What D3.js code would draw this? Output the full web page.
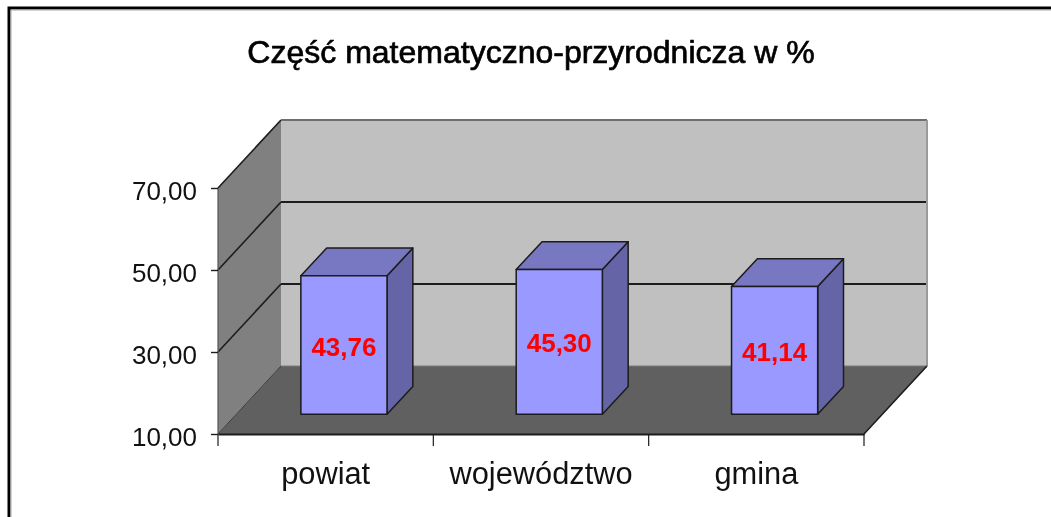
<!DOCTYPE html>
<html>
<head>
<meta charset="utf-8">
<script src="https://cdn.jsdelivr.net/npm/d3@7"></script>
<style>
  html, body { margin: 0; padding: 0; background: #fff; }
  svg { display: block; font-family: "Liberation Sans", Arial, sans-serif; filter: blur(0.55px); }
</style>
</head>
<body>
<div id="chart"></div>
<script>
const TITLE = 'Część matematyczno-przyrodnicza w %';
const categories = ['powiat', 'województwo', 'gmina'];
const values = [43.76, 45.30, 41.14];
const valueLabels = ['43,76', '45,30', '41,14'];
const yTicks = [10, 30, 50, 70];

const COLORS = {
  wall: '#c0c0c0',
  side: '#808080',
  floor: '#606060',
  line: '#1c1c1c',
  barFront: '#9999ff',
  barTop: '#7777c2',
  barSide: '#6464a6',
  label: '#ff0000',
};

const width = 1051;
const height = 517;
const plot = { left: 218, right: 864, top: 188, bottom: 434 };
const depth = { dx: 63, dy: -68 };

const svg = d3.select('#chart').append('svg').attr('width', width).attr('height', height);

const x = d3.scaleBand().domain(categories).range([plot.left, plot.right]).paddingInner(0).paddingOuter(0);
const y = d3.scaleLinear().domain([10, 70]).range([plot.bottom, plot.top]);
const z = d3.scaleLinear().domain([0, 1]).range([0, 1]);

// 3d point: px on the front plane, value, depth 0..1
const pt = (px, value, d) => [px + z(d) * depth.dx, y(value) + z(d) * depth.dy];
const poly = (points, fill, stroke, sw) => svg.append('polygon')
  .attr('points', points.map((p) => p.join(',')).join(' '))
  .attr('fill', fill)
  .attr('stroke', stroke || 'none')
  .attr('stroke-width', sw || 0)
  .attr('stroke-linejoin', 'round');
const line = (a, b, color, sw) => svg.append('line')
  .attr('x1', a[0]).attr('y1', a[1]).attr('x2', b[0]).attr('y2', b[1])
  .attr('stroke', color).attr('stroke-width', sw);

// outer frame, cut by the picture on the right and bottom
svg.append('path')
  .attr('d', d3.line()([[9, height], [9, 8], [width, 8]]))
  .attr('fill', 'none').attr('stroke', '#000').attr('stroke-width', 3);
svg.append('path')
  .attr('d', d3.line()([[11, height], [11, 10], [width, 10]]))
  .attr('fill', 'none').attr('stroke', '#a8a8a8').attr('stroke-width', 1);

svg.append('text')
  .attr('x', 531).attr('y', 63)
  .attr('text-anchor', 'middle')
  .attr('font-size', 32)
  .attr('font-weight', 400)
  .attr('stroke', '#000').attr('stroke-width', 0.7)
  .attr('fill', '#000')
  .text(TITLE);

// walls and floor
const [yMin, yMax] = y.domain();
poly([pt(plot.left, yMin, 1), pt(plot.right, yMin, 1), pt(plot.right, yMax, 1), pt(plot.left, yMax, 1)], COLORS.wall);
poly([pt(plot.left, yMin, 0), pt(plot.left, yMin, 1), pt(plot.left, yMax, 1), pt(plot.left, yMax, 0)], COLORS.side);
poly([pt(plot.left, yMin, 0), pt(plot.right, yMin, 0), pt(plot.right, yMin, 1), pt(plot.left, yMin, 1)], COLORS.floor);

// gridlines run along the side wall and the back wall
yTicks.slice(1).forEach((tick) => {
  line(pt(plot.left, tick, 0), pt(plot.left, tick, 1), COLORS.line, 1.6);
  line(pt(plot.left, tick, 1), pt(plot.right, tick, 1), tick === yMax ? '#6e6e6e' : COLORS.line, 2);
});
line(pt(plot.right, yMin, 1), pt(plot.right, yMax, 1), '#9a9a9a', 2);
line(pt(plot.left, yMin, 1), pt(plot.right, yMin, 1), '#7a7a7a', 1);
line(pt(plot.left, yMin, 0), pt(plot.left, yMin, 1), '#3c3c3c', 1);
line(pt(plot.right, yMin, 0), pt(plot.right, yMin, 1), COLORS.line, 1.6);
line(pt(plot.left, yMin, 0), pt(plot.left, yMax, 0), '#555', 1.2);

// bars stand in the middle of the floor depth
const barFrontDepth = 0.29;
const barBackDepth = 0.70;
const barWidth = x.bandwidth() / 2.5;

categories.forEach((category, i) => {
  const left = x(category) + (x.bandwidth() - barWidth) / 2;
  const right = left + barWidth;
  const v = values[i];
  poly([pt(right, yMin, barFrontDepth), pt(right, yMin, barBackDepth), pt(right, v, barBackDepth), pt(right, v, barFrontDepth)], COLORS.barSide, COLORS.line, 1.5);
  poly([pt(left, v, barFrontDepth), pt(right, v, barFrontDepth), pt(right, v, barBackDepth), pt(left, v, barBackDepth)], COLORS.barTop, COLORS.line, 1.5);
  poly([pt(left, yMin, barFrontDepth), pt(right, yMin, barFrontDepth), pt(right, v, barFrontDepth), pt(left, v, barFrontDepth)], COLORS.barFront, COLORS.line, 1.5);
});

// axes on the front plane
const yAxis = svg.append('g')
  .attr('transform', `translate(${plot.left},0)`)
  .call(d3.axisLeft(y).tickValues(yTicks).tickSize(7).tickPadding(14)
    .tickFormat((tick) => d3.format('.2f')(tick).replace('.', ',')));
yAxis.select('.domain').remove();
yAxis.selectAll('line').attr('stroke', COLORS.line).attr('stroke-width', 1.4);
yAxis.selectAll('text').attr('font-size', 26).attr('font-family', 'inherit').attr('fill', '#111').attr('dy', '0.44em');

const xAxis = svg.append('g')
  .attr('transform', `translate(0,${plot.bottom})`)
  .call(d3.axisBottom(x).tickSize(0).tickPadding(28));
xAxis.select('.domain').attr('stroke', COLORS.line).attr('stroke-width', 1.8);
xAxis.selectAll('text').attr('font-size', 30.8).attr('font-family', 'inherit').attr('fill', '#111');

// category separators below the floor edge
const separators = categories.map((category) => x(category)).concat(plot.right);
svg.append('g').selectAll('line').data(separators).enter().append('line')
  .attr('x1', (d) => d).attr('x2', (d) => d)
  .attr('y1', plot.bottom).attr('y2', plot.bottom + 12)
  .attr('stroke', COLORS.line).attr('stroke-width', 1.2);

// data labels are centred on the bar front
svg.append('g').selectAll('text').data(categories).enter().append('text')
  .attr('x', (d) => pt(x(d) + x.bandwidth() / 2, yMin, barFrontDepth)[0])
  .attr('y', (d, i) => {
    const top = pt(0, values[i], barFrontDepth)[1];
    const base = pt(0, yMin, barFrontDepth)[1];
    return (top + base) / 2 + 10.5;
  })
  .attr('text-anchor', 'middle')
  .attr('font-size', 26)
  .attr('font-weight', 700)
  .attr('fill', COLORS.label)
  .text((d, i) => valueLabels[i]);
</script>
</body>
</html>
